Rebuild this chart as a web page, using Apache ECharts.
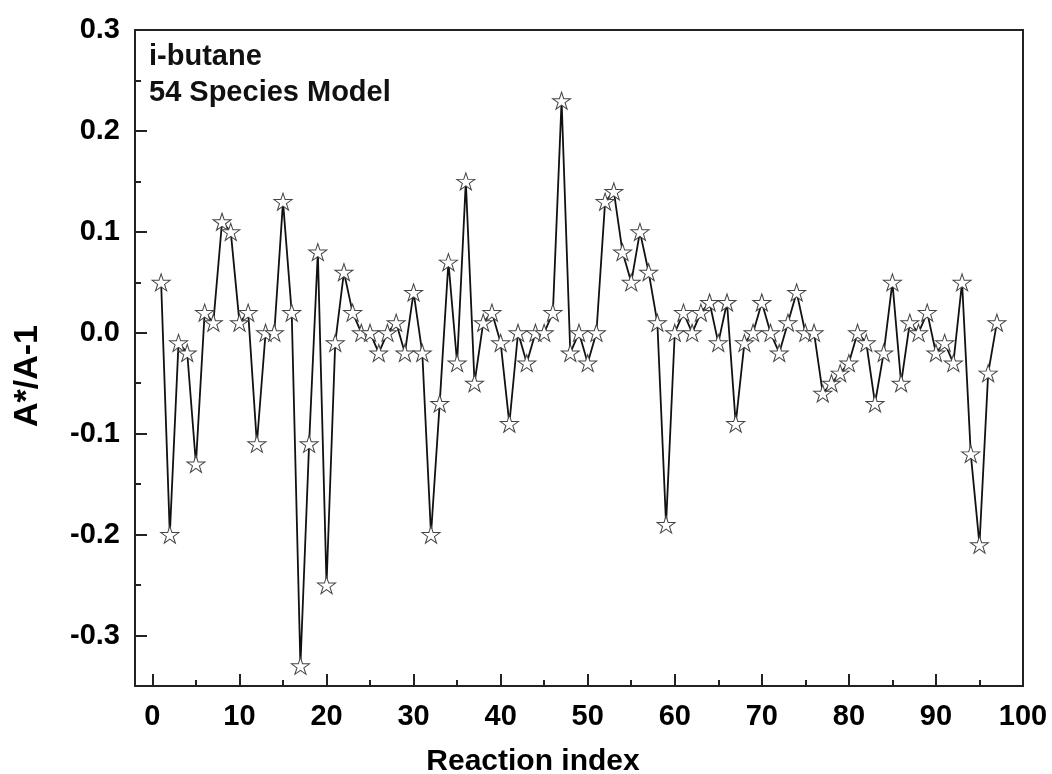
<!DOCTYPE html>
<html>
<head>
<meta charset="utf-8">
<script src="https://cdn.jsdelivr.net/npm/echarts@6/dist/echarts.min.js"></script>
<style>
  html, body { margin: 0; padding: 0; background: #fff; }
  #chart { width: 1052px; height: 774px; }
</style>
</head>
<body>
<div id="chart"></div>
<script>
// Reaction index (x) and relative change of the pre-exponential factor A*/A-1 (y)
const reactionIndex = [
  1, 2, 3, 4, 5, 6, 7, 8, 9, 10,
  11, 12, 13, 14, 15, 16, 17, 18, 19, 20,
  21, 22, 23, 24, 25, 26, 27, 28, 29, 30,
  31, 32, 33, 34, 35, 36, 37, 38, 39, 40,
  41, 42, 43, 44, 45, 46, 47, 48, 49, 50,
  51, 52, 53, 54, 55, 56, 57, 58, 59, 60,
  61, 62, 63, 64, 65, 66, 67, 68, 69, 70,
  71, 72, 73, 74, 75, 76, 77, 78, 79, 80,
  81, 82, 83, 84, 85, 86, 87, 88, 89, 90,
  91, 92, 93, 94, 95, 96, 97
];
const ratioChange = [
  0.05, -0.20, -0.01, -0.02, -0.13, 0.02, 0.01, 0.11, 0.10, 0.01,
  0.02, -0.11, 0.00, 0.00, 0.13, 0.02, -0.33, -0.11, 0.08, -0.25,
  -0.01, 0.06, 0.02, 0.00, 0.00, -0.02, 0.00, 0.01, -0.02, 0.04,
  -0.02, -0.20, -0.07, 0.07, -0.03, 0.15, -0.05, 0.01, 0.02, -0.01,
  -0.09, 0.00, -0.03, 0.00, 0.00, 0.02, 0.23, -0.02, 0.00, -0.03,
  0.00, 0.13, 0.14, 0.08, 0.05, 0.10, 0.06, 0.01, -0.19, 0.00,
  0.02, 0.00, 0.02, 0.03, -0.01, 0.03, -0.09, -0.01, 0.00, 0.03,
  0.00, -0.02, 0.01, 0.04, 0.00, 0.00, -0.06, -0.05, -0.04, -0.03,
  0.00, -0.01, -0.07, -0.02, 0.05, -0.05, 0.01, 0.00, 0.02, -0.02,
  -0.01, -0.03, 0.05, -0.12, -0.21, -0.04, 0.01
];

// Tick positions
const xMajorTicks = [0, 10, 20, 30, 40, 50, 60, 70, 80, 90, 100];
const xMinorTicks = [5, 15, 25, 35, 45, 55, 65, 75, 85, 95];
const yMajorTicks = [-0.3, -0.2, -0.1, 0, 0.1, 0.2, 0.3];
const yMinorTicks = [-0.25, -0.15, -0.05, 0.05, 0.15, 0.25];

const seriesData = reactionIndex.map((x, i) => [x, ratioChange[i]]);

const FONT = '"Liberation Sans", Arial, sans-serif';
const INK = '#111';

// Five-pointed star outline
const STAR = 'path://M50 0 L61.23 34.55 L97.55 34.55 L68.17 55.9 L79.39 90.45 L50 69.1 L20.61 90.45 L31.83 55.9 L2.45 34.55 L38.77 34.55 Z';

const labelStyle = {
  fontFamily: FONT,
  fontWeight: 'bold',
  fontSize: 29,
  color: '#000'
};

const chart = echarts.init(document.getElementById('chart'), null, { renderer: 'canvas' });

chart.setOption({
  animation: false,
  backgroundColor: '#fff',
  grid: {
    left: 135,
    right: 29,
    top: 30,
    bottom: 88,
    outerBoundsMode: 'none',
    containLabel: false,
    show: true,
    borderColor: '#222',
    borderWidth: 2,
    backgroundColor: 'transparent'
  },
  xAxis: [
    {
      type: 'value',
      min: -2,
      max: 100,
      position: 'bottom',
      name: 'Reaction index',
      nameLocation: 'middle',
      nameGap: 61,
      nameTextStyle: {
        fontFamily: FONT,
        fontWeight: 'bold',
        fontSize: 30,
        color: '#000',
        padding: [0, 92, 0, 0]
      },
      axisLine: { show: false, onZero: false },
      splitLine: { show: false },
      axisTick: {
        show: true,
        inside: true,
        length: 12,
        customValues: xMajorTicks,
        lineStyle: { color: '#222', width: 2 }
      },
      axisLabel: {
        show: true,
        margin: 16,
        customValues: xMajorTicks,
        formatter: v => String(v),
        ...labelStyle
      }
    },
    {
      type: 'value',
      min: -2,
      max: 100,
      position: 'bottom',
      axisLine: { show: false, onZero: false },
      splitLine: { show: false },
      axisLabel: { show: false },
      axisTick: {
        show: true,
        inside: true,
        length: 6,
        customValues: xMinorTicks,
        lineStyle: { color: '#222', width: 2 }
      }
    }
  ],
  yAxis: [
    {
      type: 'value',
      min: -0.35,
      max: 0.3,
      position: 'left',
      name: 'A*/A-1',
      nameLocation: 'middle',
      nameGap: 90,
      nameRotate: 90,
      nameTextStyle: {
        fontFamily: FONT,
        fontWeight: 'bold',
        fontSize: 34,
        color: '#000',
        padding: [0, 36, 0, 0]
      },
      axisLine: { show: false, onZero: false },
      splitLine: { show: false },
      axisTick: {
        show: true,
        inside: true,
        length: 12,
        customValues: yMajorTicks,
        lineStyle: { color: '#222', width: 2 }
      },
      axisLabel: {
        show: true,
        margin: 15,
        customValues: yMajorTicks,
        formatter: v => v.toFixed(1),
        ...labelStyle
      }
    },
    {
      type: 'value',
      min: -0.35,
      max: 0.3,
      position: 'left',
      axisLine: { show: false, onZero: false },
      splitLine: { show: false },
      axisLabel: { show: false },
      axisTick: {
        show: true,
        inside: true,
        length: 6,
        customValues: yMinorTicks,
        lineStyle: { color: '#222', width: 2 }
      }
    }
  ],
  graphic: [
    {
      type: 'text',
      left: 149,
      top: 42,
      style: {
        text: 'i-butane',
        fontFamily: FONT,
        fontWeight: 'bold',
        fontSize: 29,
        fill: INK
      }
    },
    {
      type: 'text',
      left: 149,
      top: 78,
      style: {
        text: '54 Species Model',
        fontFamily: FONT,
        fontWeight: 'bold',
        fontSize: 29,
        fill: INK
      }
    }
  ],
  series: [
    {
      type: 'line',
      xAxisIndex: 0,
      yAxisIndex: 0,
      data: seriesData,
      symbol: STAR,
      symbolSize: [18, 17],
      showAllSymbol: true,
      lineStyle: { color: '#111', width: 1.8 },
      itemStyle: { color: '#fff', borderColor: '#444', borderWidth: 1 },
      emphasis: { disabled: true },
      z: 3
    }
  ]
});
</script>
</body>
</html>
